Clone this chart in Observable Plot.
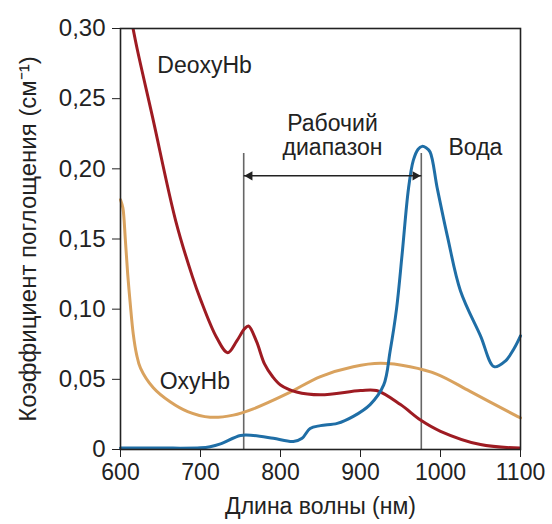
<!DOCTYPE html>
<html>
<head>
<meta charset="utf-8">
<script src="https://cdn.jsdelivr.net/npm/d3@7"></script>
<script src="https://cdn.jsdelivr.net/npm/@observablehq/plot@0.6"></script>
<style>
  html, body { margin: 0; padding: 0; background: #fff; }
  #chart { width: 552px; height: 524px; }
  svg text { font-family: "Liberation Sans", Arial, Helvetica, sans-serif; }
</style>
</head>
<body>
<div id="chart"></div>
<script>
// Wavelength (nm) and absorption coefficient (cm^-1) readings
const deoxyNm  = [614, 621, 640, 669, 690, 700, 720, 734, 745, 755, 760, 770, 780, 790, 800, 820, 850, 900, 920, 950, 975, 1000, 1050, 1100];
const deoxyVal = [0.305, 0.285, 0.237, 0.163, 0.123, 0.107, 0.080, 0.069, 0.077, 0.086, 0.088, 0.077, 0.061, 0.052, 0.046, 0.041, 0.039, 0.042, 0.042, 0.032, 0.021, 0.013, 0.0035, 0.001];

const oxyNm  = [600, 603, 606, 609, 612, 616, 620, 625, 641, 662, 684, 712, 741, 766, 809, 850, 891, 925, 962, 996, 1037, 1096, 1100];
const oxyVal = [0.178, 0.172, 0.150, 0.125, 0.105, 0.082, 0.068, 0.058, 0.044, 0.034, 0.027, 0.023, 0.0245, 0.0290, 0.040, 0.052, 0.059, 0.0614, 0.059, 0.0536, 0.0414, 0.0236, 0.0225];

const waterNm  = [600, 650, 700, 712, 725, 750, 766, 791, 816, 827, 837, 850, 871, 891, 912, 929, 937, 945, 952, 960, 966, 972, 977, 982, 987, 996, 1009, 1025, 1050, 1067, 1081, 1092, 1100];
const waterVal = [0.001, 0.001, 0.0012, 0.002, 0.004, 0.010, 0.010, 0.008, 0.0057, 0.008, 0.015, 0.017, 0.0186, 0.0236, 0.032, 0.046, 0.07, 0.10, 0.139, 0.186, 0.206, 0.214, 0.216, 0.215, 0.212, 0.186, 0.151, 0.113, 0.081, 0.059, 0.063, 0.072, 0.081];

const xTicks = [600, 700, 800, 900, 1000, 1100];
const yTicks = [0, 0.05, 0.10, 0.15, 0.20, 0.25, 0.30];

const xTitle = "Длина волны (нм)";
const yTitle = "Коэффициент поглощения (см⁻¹)";

// Working range markers
const rangeNm = [754, 976];
const rangeTop = 0.211;
const arrowVal = 0.195;

const startLabels = [
  {nm: 646, v: 0.268, text: "DeoxyHb"},
  {nm: 649, v: 0.043, text: "OxyHb"},
  {nm: 1010, v: 0.210, text: "Вода"}
];
const middleLabels = [
  {nm: 865, v: 0.227, text: "Рабочий"},
  {nm: 865, v: 0.210, text: "диапазон"}
];

const toRows = (xs, ys) => xs.map((x, i) => ({x, y: ys[i]}));
const deoxy = toRows(deoxyNm, deoxyVal);
const oxy = toRows(oxyNm, oxyVal);
const water = toRows(waterNm, waterVal);

const fmtY = d => d === 0 ? "0" : d.toFixed(2).replace(".", ",");
const FS = 23;

const chart = Plot.plot({
  width: 552,
  height: 524,
  marginTop: 28,
  marginBottom: 75,
  marginLeft: 120,
  marginRight: 32,
  style: {fontSize: FS + "px", color: "#222", background: "#fff"},
  x: {domain: [600, 1100]},
  y: {domain: [0, 0.30]},
  marks: [
    Plot.axisX({ticks: xTicks, tickSize: 8, tickPadding: 6, tickFormat: d => String(d), label: null, fontSize: FS, stroke: "#222"}),
    Plot.axisY({ticks: yTicks, tickSize: 8, tickPadding: 7, tickFormat: fmtY, label: null, fontSize: 24, stroke: "#222"}),
    Plot.text([xTitle], {frameAnchor: "bottom", text: d => d, dy: 64, lineAnchor: "bottom", textAnchor: "middle", fontSize: FS, fill: "#222"}),
    Plot.text([yTitle], {frameAnchor: "left", text: d => d, dx: -92, rotate: -90, textAnchor: "middle", lineAnchor: "middle", fontSize: 24, fill: "#222"}),
    Plot.ruleX(rangeNm, {y1: 0, y2: rangeTop, stroke: "#666", strokeWidth: 1.6}),
    Plot.line(oxy, {x: "x", y: "y", stroke: "#d9a25e", strokeWidth: 3, curve: "catmull-rom"}),
    Plot.line(deoxy, {x: "x", y: "y", stroke: "#9e1b22", strokeWidth: 3, curve: "catmull-rom", clip: true}),
    Plot.line(water, {x: "x", y: "y", stroke: "#1f6ea6", strokeWidth: 3, curve: "catmull-rom"}),
    Plot.link([{x1: rangeNm[0], x2: rangeNm[1]}], {x1: "x1", x2: "x2", y1: arrowVal, y2: arrowVal, stroke: "#222", strokeWidth: 1.5, insetLeft: 2, insetRight: 2}),
    Plot.dot([rangeNm[0]], {x: d => d, y: arrowVal, symbol: "triangle", rotate: -90, r: 3.5, fill: "#222", dx: 6}),
    Plot.dot([rangeNm[1]], {x: d => d, y: arrowVal, symbol: "triangle", rotate: 90, r: 3.5, fill: "#222", dx: -6}),
    Plot.text(startLabels, {x: "nm", y: "v", text: "text", textAnchor: "start", fill: "#222", fontSize: FS, lineAnchor: "bottom"}),
    Plot.text(middleLabels, {x: "nm", y: "v", text: "text", textAnchor: "middle", fill: "#222", fontSize: FS, lineAnchor: "bottom"}),
    Plot.frame({stroke: "#222", strokeWidth: 1.6})
  ]
});
document.getElementById("chart").appendChild(chart);
</script>
</body>
</html>
